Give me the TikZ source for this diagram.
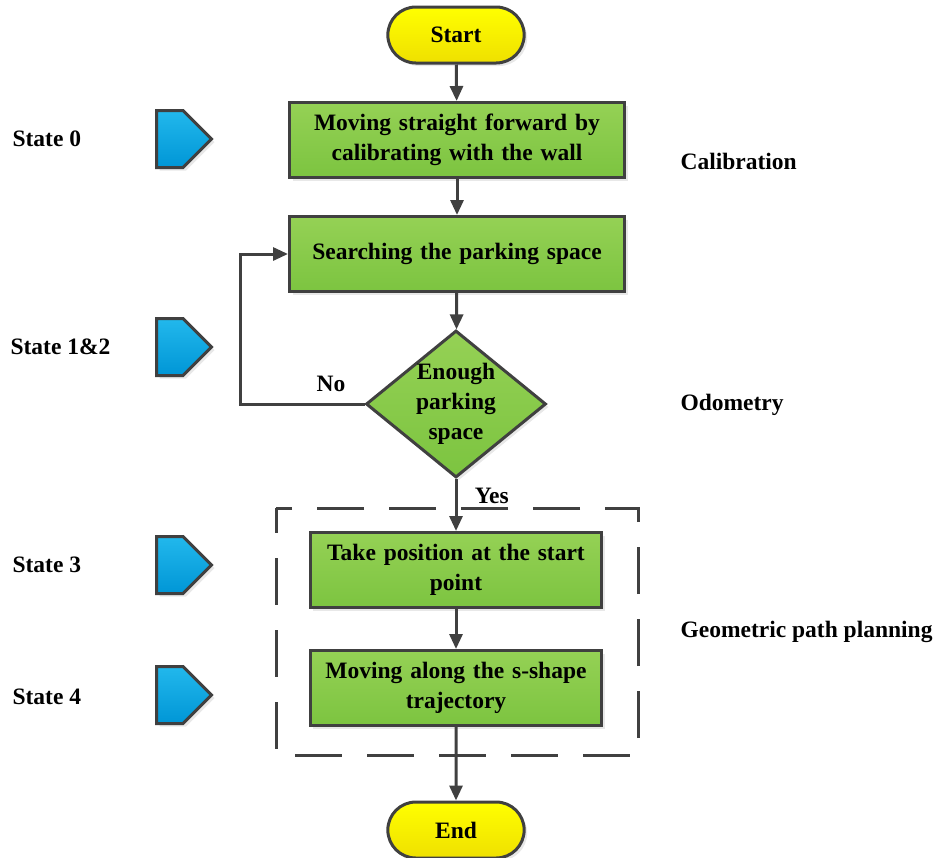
\documentclass[tikz,border=0pt]{standalone}
\usepackage{fontspec}
\setmainfont{Liberation Serif}
\usetikzlibrary{positioning}
\usetikzlibrary{arrows.meta,shapes.geometric,shapes.symbols,shapes.misc,shadows}

\definecolor{linegray}{HTML}{404040}
\definecolor{greentop}{HTML}{95D155}
\definecolor{greenbot}{HTML}{7CC440}
\definecolor{yellowtop}{HTML}{FFFF00}
\definecolor{yellowbot}{HTML}{EFE000}
\definecolor{bluetop}{HTML}{22B8EC}
\definecolor{bluebot}{HTML}{0096D6}

\tikzset{
  base/.style={draw=linegray, line width=3pt, font=\fontsize{23.5}{30}\selectfont\bfseries,
    align=center, drop shadow={shadow xshift=3pt, shadow yshift=-3pt, fill=black!18}},
  terminal/.style={base, rounded rectangle, top color=yellowtop, bottom color=yellowbot,
    minimum width=143pt, minimum height=56pt},
  process/.style={base, rectangle, top color=greentop, bottom color=greenbot,
    minimum width=335pt, minimum height=75pt, text width=325pt},
  smallproc/.style={process, minimum width=289pt, text width=285pt},
  decision/.style={base, diamond, aspect=1.2, top color=greentop, bottom color=greenbot,
    minimum width=180pt, minimum height=147pt, inner sep=-5pt},
  statetag/.style={draw=linegray, line width=3pt, signal, signal to=east,
    signal pointer angle=90, top color=bluetop, bottom color=bluebot,
    minimum width=55pt, minimum height=57pt, inner sep=0pt, anchor=west,
    drop shadow={shadow xshift=3pt, shadow yshift=-3pt, fill=black!18}},
  label/.style={font=\fontsize{23.5}{30}\selectfont\bfseries},
  flow/.style={draw=linegray, line width=3pt, -{Triangle[length=15pt,width=13pt]}},
}

\begin{document}
\begin{tikzpicture}[x=1pt, y=-1pt]
	\useasboundingbox (0,0) rectangle (941,857);

	%Dashed frame
	\draw[draw=linegray, line width=3pt, dash pattern=on 47pt off 25pt, dash phase=22pt] (276,508) rectangle (638,755);

	%Flow nodes
	\node[terminal] (start) at (456,35) {Start};
	\node[process] (wall) at (457,140) {Moving straight forward by\\calibrating with the wall};
	\node[process] (search) at (457,254) {Searching the parking space};
	\node[decision] (enough) at (456,404) {Enough\\parking\\space};
	\node[smallproc] (takepos) at (456,570) {Take position at the start\\point};
	\node[smallproc] (sshape) at (456,688) {Moving along the s-shape\\trajectory};
	\node[terminal] (end) at (456,830) {End};

	%State tags
	\node[statetag] (tag0) at (155,139) {};
	\node[statetag] (tag12) at (155,347) {};
	\node[statetag] (tag3) at (155,565) {};
	\node[statetag] (tag4) at (155,695) {};
	\node[label, anchor=west] (st0) at (9,139) {State 0};
	\node[label, anchor=west] (st12) at (7,347) {State 1\&2};
	\node[label, anchor=west] (st3) at (9,565) {State 3};
	\node[label, anchor=west] (st4) at (9,697) {State 4};

	%Stage labels
	\node[label, anchor=west] (calib) at (677,161) {Calibration};
	\node[label, anchor=west] (odo) at (677,405) {Odometry};
	\node[label, anchor=west] (geo) at (677,632) {Geometric path planning};

	%Connectors
	\coordinate (loop) at (240,404);
	\draw[flow] (start) -- (wall);
	\draw[flow] (wall) -- (search);
	\draw[flow] (search) -- (enough);
	\draw[flow] (enough) -- (takepos) node[label, pos=0.32, right=14pt] (yes) {Yes};
	\draw[flow] (takepos) -- (sshape);
	\draw[flow] (sshape) -- (end);
	\draw[flow] (enough.west) -- (loop) |- (search.west);
	\node[label] (no) at (331,384) {No};
\end{tikzpicture}
\end{document}
